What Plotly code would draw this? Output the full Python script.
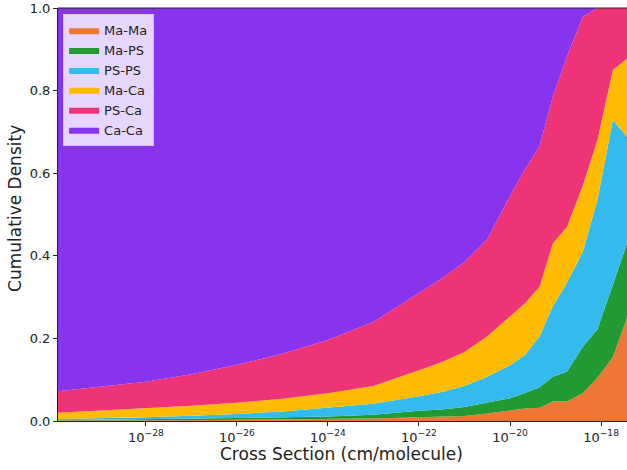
import plotly.graph_objects as go

# log10 of cross section (cm/molecule)
log_cross_section = [-29.93, -29.0, -28.0, -27.0, -26.0, -25.0, -24.0, -23.0, -22.0, -21.5,
                     -21.0, -20.5, -20.0, -19.67, -19.35, -19.06, -18.75, -18.40, -18.08,
                     -17.74, -17.43]

ma_ma = [0.001, 0.001, 0.002, 0.002, 0.003, 0.004, 0.005, 0.006, 0.009, 0.010,
         0.012, 0.018, 0.025, 0.030, 0.032, 0.047, 0.047, 0.067, 0.105, 0.155, 0.250]
ma_ps = [0.001, 0.002, 0.002, 0.003, 0.004, 0.005, 0.006, 0.009, 0.016, 0.018,
         0.022, 0.027, 0.030, 0.038, 0.050, 0.060, 0.072, 0.113, 0.117, 0.175, 0.180]
ps_ps = [0.003, 0.004, 0.005, 0.008, 0.010, 0.014, 0.022, 0.027, 0.035, 0.042,
         0.051, 0.062, 0.080, 0.092, 0.123, 0.170, 0.215, 0.230, 0.313, 0.399, 0.258]
ma_ca = [0.015, 0.018, 0.022, 0.024, 0.027, 0.031, 0.034, 0.043, 0.063, 0.072,
         0.082, 0.098, 0.118, 0.125, 0.120, 0.153, 0.136, 0.160, 0.145, 0.121, 0.190]
ps_ca = [0.052, 0.058, 0.064, 0.076, 0.092, 0.109, 0.129, 0.155, 0.187, 0.203,
         0.218, 0.235, 0.292, 0.325, 0.340, 0.355, 0.412, 0.409, 0.320, 0.150, 0.122]
ca_ca = [0.928, 0.917, 0.905, 0.887, 0.864, 0.837, 0.804, 0.760, 0.690, 0.655,
         0.615, 0.560, 0.455, 0.390, 0.335, 0.215, 0.118, 0.021, 0.000, 0.000, 0.000]

series_names = ["Ma-Ma", "Ma-PS", "PS-PS", "Ma-Ca", "PS-Ca", "Ca-Ca"]
series_values = [ma_ma, ma_ps, ps_ps, ma_ca, ps_ca, ca_ca]
colors = ["#EE7733", "#229933", "#33BBEE", "#FFBB00", "#EE3377", "#8833EE"]

tick_exponents = [-28, -26, -24, -22, -20, -18]
tick_labels = ["10<sup>\u2212%d</sup>" % (-e) for e in tick_exponents]

x_vals = [10 ** e for e in log_cross_section]

fig = go.Figure()
for name, vals, col in zip(series_names, series_values, colors):
    fig.add_trace(go.Scatter(
        x=x_vals, y=vals, name=name, mode="lines",
        stackgroup="one", line=dict(width=0, color=col),
        fillcolor=col,
    ))

font_family = "DejaVu Sans"
txt_color = "#222222"
fig.update_layout(
    width=627, height=470,
    margin=dict(l=58, r=0, t=8, b=49),
    paper_bgcolor="white", plot_bgcolor="white",
    font=dict(family=font_family, size=13, color=txt_color),
    showlegend=True,
    legend=dict(
        x=0.009, y=0.985, xanchor="left", yanchor="top",
        bgcolor="rgba(255,255,255,0.8)", bordercolor="#cccccc", borderwidth=1,
        font=dict(family=font_family, size=13, color=txt_color),
        traceorder="normal", itemwidth=30, tracegroupgap=0,
    ),
)
fig.update_xaxes(
    type="log", range=[-29.93, -17.43], automargin=False,
    tickvals=[10 ** e for e in tick_exponents], ticktext=tick_labels,
    ticks="outside", ticklen=4, tickcolor=txt_color,
    showline=True, linecolor=txt_color, linewidth=1,
    showgrid=False, zeroline=False,
    tickfont=dict(size=13, color=txt_color),
)
fig.update_yaxes(
    range=[0, 1.0], automargin=False,
    tickvals=[0, 0.2, 0.4, 0.6, 0.8, 1.0], tickformat=".1f",
    ticks="outside", ticklen=4, tickcolor=txt_color,
    showline=True, linecolor=txt_color, linewidth=1,
    showgrid=False, zeroline=False,
    tickfont=dict(size=13, color=txt_color),
)
fig.add_shape(type="line", xref="paper", yref="paper", x0=0, x1=1, y0=1, y1=1,
              line=dict(color=txt_color, width=1))
fig.add_annotation(text="Cross Section (cm/molecule)", xref="paper", yref="paper",
                   x=0.499, y=-0.081, xanchor="center", yanchor="middle",
                   showarrow=False, font=dict(size=17, color=txt_color))
fig.add_annotation(text="Cumulative Density", xref="paper", yref="paper",
                   x=-0.0756, y=0.516, xanchor="center", yanchor="middle",
                   textangle=-90, showarrow=False, font=dict(size=17, color=txt_color))

fig.write_html(
    "out.html",
    config={"displayModeBar": False},
    post_script="document.body.style.margin='0';document.body.style.padding='0';",
)
